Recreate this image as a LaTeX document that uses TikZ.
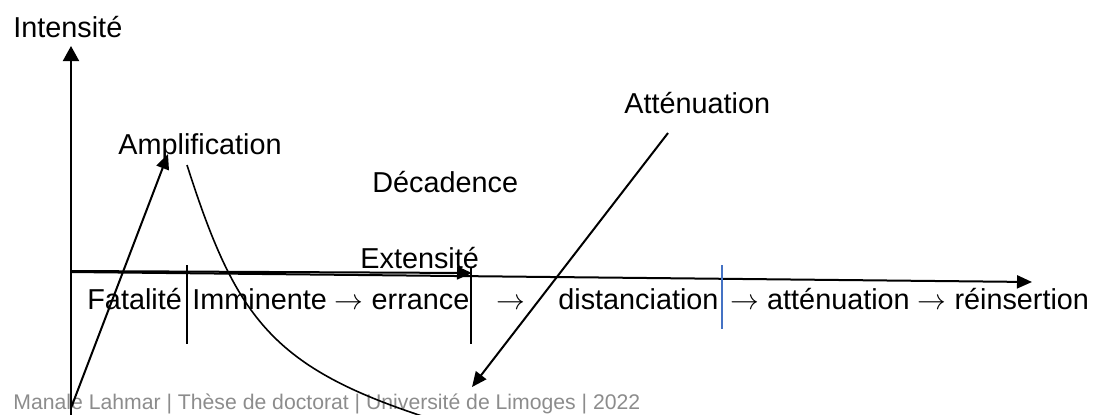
\documentclass[tikz,border=0pt]{standalone}
\usepackage{fontspec}
\setmainfont{Liberation Sans}
\usetikzlibrary{arrows.meta, positioning}
\definecolor{tblue}{HTML}{4472C4}
\definecolor{tgray}{HTML}{8C8C8C}
\tikzset{
  lbl/.style={anchor=base west, inner sep=0pt, font=\fontsize{14.4}{17}\selectfont},
  axisarr/.style={-{Triangle[length=7.5pt,width=8pt]}, line width=1pt},
  arr/.style={-{Triangle[length=7.5pt,width=6.5pt]}, line width=1pt},
  divline/.style={line width=0.65pt},
}

\begin{document}
\begin{tikzpicture}[x={(0.5pt,0)}, y={(0,-0.5pt)}]
  \useasboundingbox (0,0) rectangle (1096,414);

  %% footer
  \node[anchor=base west, inner sep=0pt, text=tgray, font=\fontsize{10.6}{12}\selectfont]
    (foot) at (13,409) {Manale Lahmar | Thèse de doctorat | Université de Limoges | 2022};

  %% labels
  \node[lbl] (inten) at (13,37) {Intensité};
  \node[lbl] (ampl) at (118,154) {Amplification};
  \node[lbl] (deca) at (372,192) {Décadence};
  \node[lbl] (exten) at (360,268) {Extensité};
  \node[lbl] (atten) at (624,113) {Atténuation};

  %% phases under the axis
  \node[lbl] (fat) at (87,309) {Fatalité};
  \node[lbl] (imm) at (192,309) {Imminente $\rightarrow$ errance};
  \node[lbl] (mid) at (496,309) {$\rightarrow$};
  \node[lbl] (dist) at (558,309) {distanciation};
  \node[lbl] (fin) at (730,309) {$\rightarrow$ atténuation $\rightarrow$ réinsertion};

  %% axes
  \coordinate (ybot) at (71,416);
  \coordinate (ytip) at (71,46);
  \coordinate (xorig) at (71,272);
  \coordinate (xtip) at (1032,282);
  \draw[axisarr] (ybot) -- (ytip);
  \draw[arr] (xorig) -- (xtip);
  \draw[arr] (71,271) coordinate (etail) -- (472,273) coordinate (etip);

  %% dividers
  \draw[divline] (187,265) coordinate (d1a) -- (187,344) coordinate (d1b);
  \draw[divline] (471,268) coordinate (d2a) -- (471,344) coordinate (d2b);
  \draw[divline, tblue] (722,265) coordinate (d3a) -- (722,329) coordinate (d3b);

  %% amplification, decadence, attenuation
  \coordinate (abot) at (71,408);
  \coordinate (atip) at (168,154);
  \draw[arr] (abot) -- (atip);

  \coordinate (dtop) at (187,165);
  \coordinate (dend) at (422,416);
  \draw[line width=0.8pt] (dtop) .. controls (235,315) and (270,366) .. (dend);

  \coordinate (ttop) at (668,133);
  \coordinate (ttip) at (472,387);
  \draw[arr] (ttop) -- (ttip);

\end{tikzpicture}
\end{document}
